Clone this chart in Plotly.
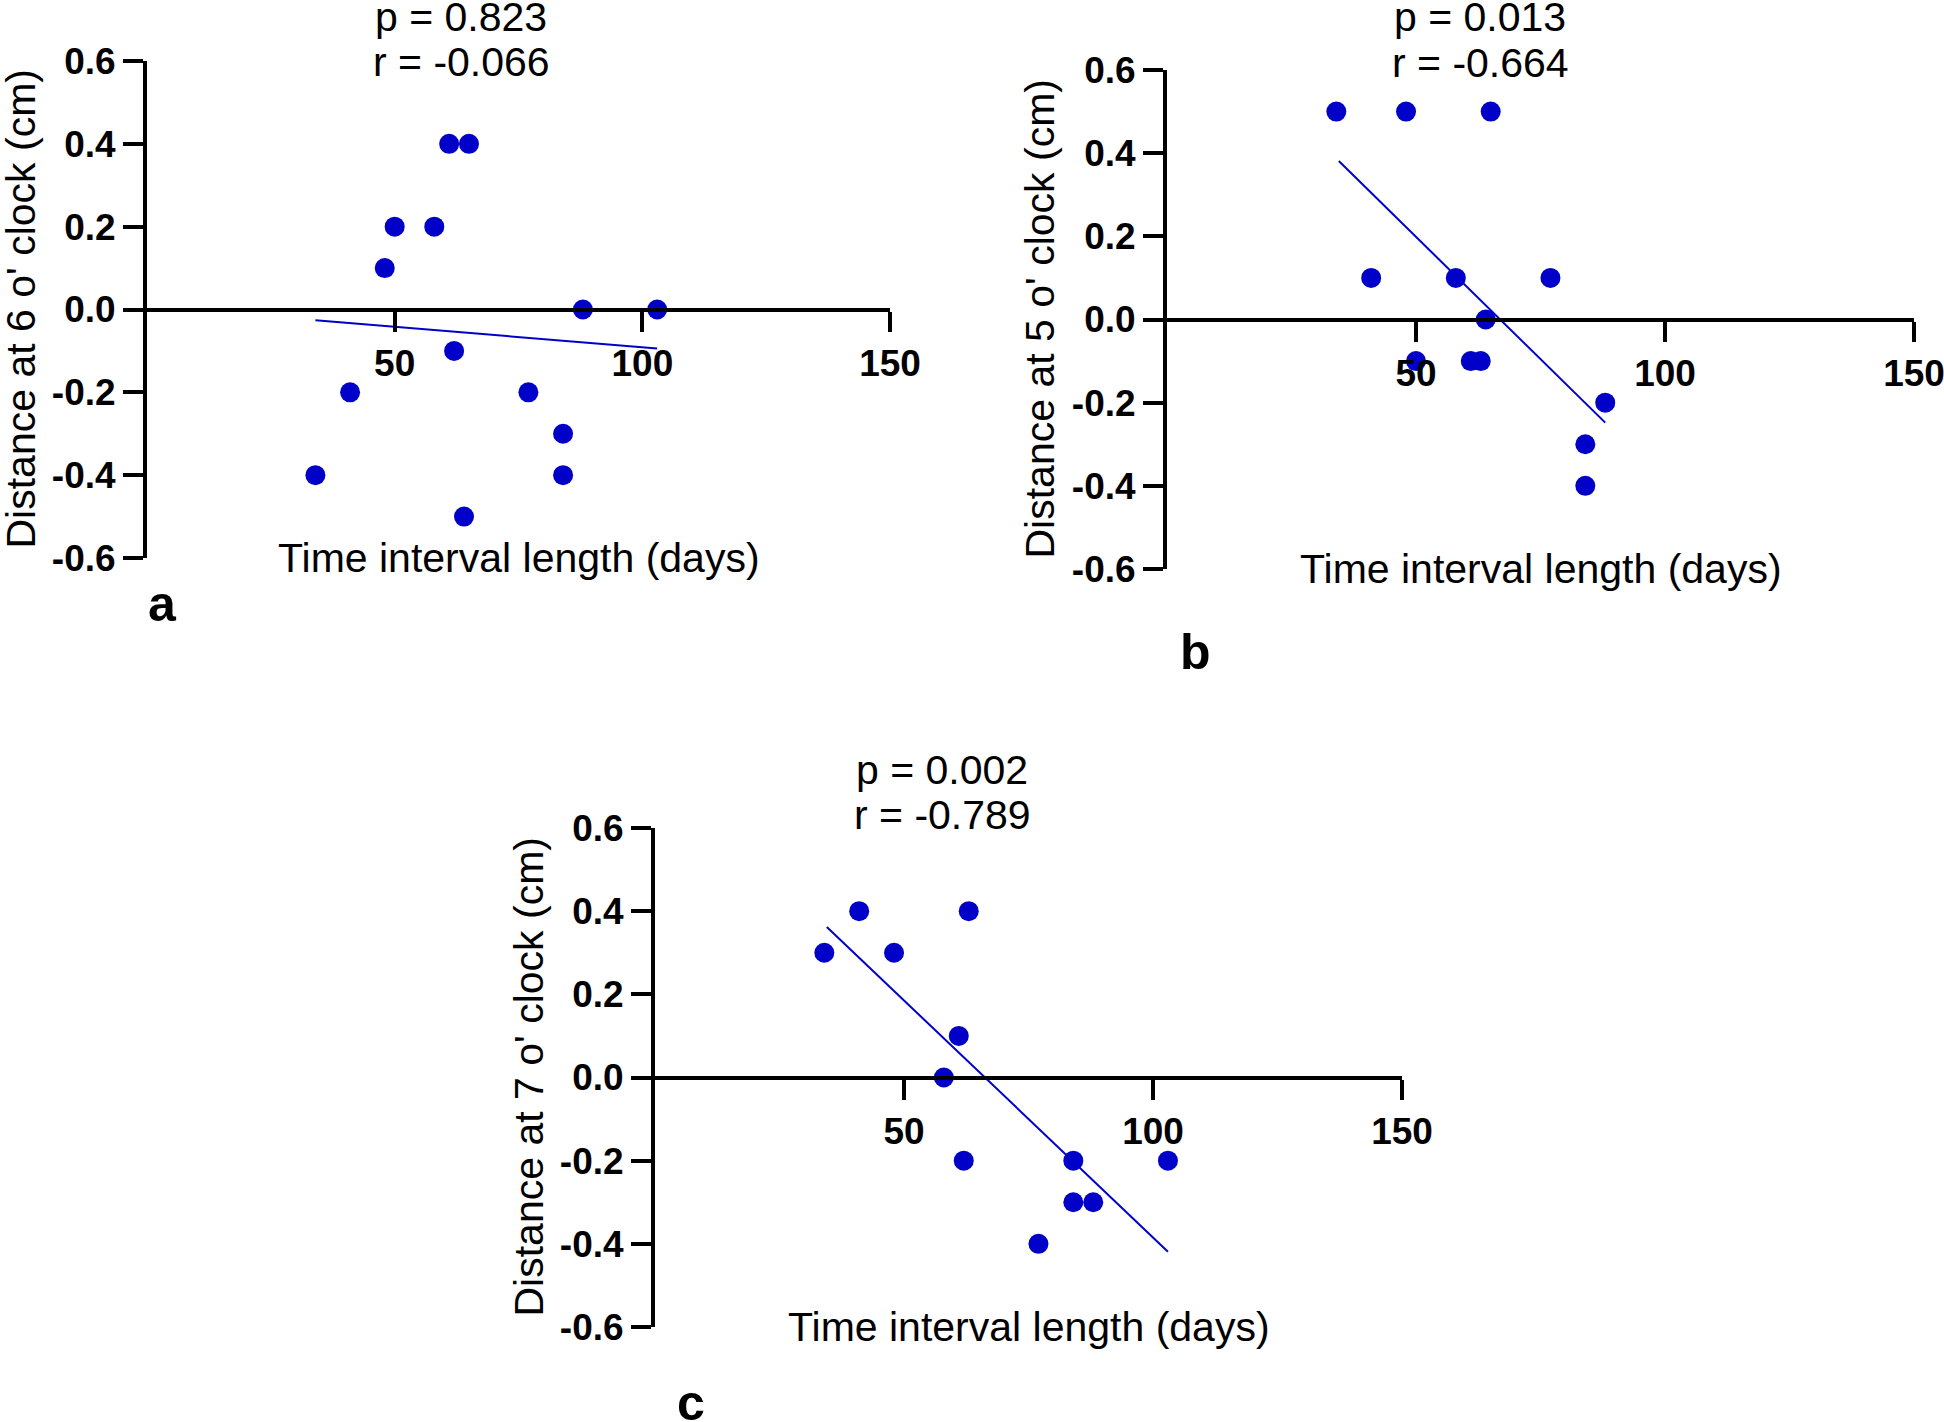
import plotly.graph_objects as go

W, H = 1944, 1422
BLUE = "#0000C8"
FONT = "Liberation Sans, Arial, Helvetica, sans-serif"

# ---------------- data ----------------
panel_names = ["a", "b", "c"]
y_titles = ["Distance at 6 o' clock (cm)", "Distance at 5 o' clock (cm)", "Distance at 7 o' clock (cm)"]
x_title = "Time interval length (days)"
p_texts = ["p = 0.823", "p = 0.013", "p = 0.002"]
r_texts = ["r = -0.066", "r = -0.664", "r = -0.789"]

a_days = [61, 65, 50, 58, 48, 88, 103, 62, 41, 77, 84, 84, 34, 64]
a_dist = [0.4, 0.4, 0.2, 0.2, 0.1, 0.0, 0.0, -0.1, -0.2, -0.2, -0.3, -0.4, -0.4, -0.5]
a_fit_x = [34, 103]
a_fit_y = [-0.026, -0.094]

b_days = [34, 48, 65, 41, 58, 77, 64, 50, 61, 63, 88, 84, 84]
b_dist = [0.5, 0.5, 0.5, 0.1, 0.1, 0.1, 0.0, -0.1, -0.1, -0.1, -0.2, -0.3, -0.4]
b_fit_x = [34.5, 88]
b_fit_y = [0.381, -0.248]

c_days = [34, 41, 48, 63, 61, 58, 62, 84, 103, 84, 88, 77]
c_dist = [0.3, 0.4, 0.3, 0.4, 0.1, 0.0, -0.2, -0.2, -0.2, -0.3, -0.3, -0.4]
c_fit_x = [34.5, 103]
c_fit_y = [0.362, -0.419]

x_tickvals = [50, 100, 150]
x_ticktext = ["50", "100", "150"]
y_tickvals = [0.6, 0.4, 0.2, 0.0, -0.2, -0.4, -0.6]
y_ticktext = ["0.6", "0.4", "0.2", "0.0", "-0.2", "-0.4", "-0.6"]

# ---------------- layout geometry (pixels) ----------------
# (axis left x, axis right x, top y, bottom y)
boxes = [(147, 890, 61, 558), (1167, 1914, 70, 569), (655, 1402, 828, 1327)]
pr_pos = [(461, 17, 62), (1480, 17, 63), (942, 770, 815)]
letter_pos = [(162, 604), (1195, 652), (691, 1403)]

def fx(px):
    return px / W

def fy(py):
    return 1 - py / H

series = [(a_days, a_dist, a_fit_x, a_fit_y),
          (b_days, b_dist, b_fit_x, b_fit_y),
          (c_days, c_dist, c_fit_x, c_fit_y)]

fig = go.Figure()
annotations = []
layout = {}
for i, (days, dist, fxv, fyv) in enumerate(series):
    n = "" if i == 0 else str(i + 1)
    xa, ya = "x" + n, "y" + n
    x0, x1, y0, y1 = boxes[i]
    ydom = [fy(y1), fy(y0)]
    fig.add_trace(go.Scatter(x=fxv, y=fyv, mode="lines", xaxis=xa, yaxis=ya,
                             line=dict(color=BLUE, width=2), showlegend=False,
                             hoverinfo="skip", cliponaxis=False))
    fig.add_trace(go.Scatter(x=days, y=dist, mode="markers", xaxis=xa, yaxis=ya,
                             marker=dict(color=BLUE, size=20, line=dict(width=0)),
                             showlegend=False, cliponaxis=False))
    layout["xaxis" + n] = dict(
        domain=[fx(x0), fx(x1)], range=[0, 150], anchor="free",
        position=(ydom[0] + ydom[1]) / 2, showgrid=False, zeroline=False,
        showline=True, linecolor="black", linewidth=4,
        ticks="outside", ticklen=20, tickwidth=4, tickcolor="black",
        tickvals=x_tickvals, ticktext=x_ticktext, automargin=False,
        ticklabeloverflow="allow",
        tickfont=dict(family=FONT, size=37, color="black", weight="bold"),
        fixedrange=True)
    layout["yaxis" + n] = dict(
        domain=ydom, range=[-0.6, 0.6], anchor=xa, showgrid=False, zeroline=False,
        showline=True, linecolor="black", linewidth=4,
        ticks="outside", ticklen=20, tickwidth=4, tickcolor="black",
        tickvals=y_tickvals, ticktext=y_ticktext, automargin=False,
        ticklabeloverflow="allow",
        tickfont=dict(family=FONT, size=37, color="black", weight="bold"),
        fixedrange=True)
    # y title
    annotations.append(dict(xref="paper", yref="paper", x=fx(x0 - 127), y=(ydom[0] + ydom[1]) / 2,
                            text=y_titles[i], textangle=-90, showarrow=False,
                            xanchor="center", yanchor="middle",
                            font=dict(family=FONT, size=41, color="black")))
    # x title
    annotations.append(dict(xref=xa, yref=ya, x=75, y=-0.6, text=x_title, showarrow=False,
                            xanchor="center", yanchor="middle",
                            font=dict(family=FONT, size=41, color="black")))
    # p and r
    px_, pp, pr = pr_pos[i]
    annotations.append(dict(xref="paper", yref="paper", x=fx(px_), y=fy(pp), text=p_texts[i],
                            showarrow=False, xanchor="center", yanchor="middle",
                            font=dict(family=FONT, size=41, color="black")))
    annotations.append(dict(xref="paper", yref="paper", x=fx(px_), y=fy(pr), text=r_texts[i],
                            showarrow=False, xanchor="center", yanchor="middle",
                            font=dict(family=FONT, size=41, color="black")))
    # panel letter
    lx, ly = letter_pos[i]
    annotations.append(dict(xref="paper", yref="paper", x=fx(lx), y=fy(ly), text="<b>%s</b>" % panel_names[i],
                            showarrow=False, xanchor="center", yanchor="middle",
                            font=dict(family=FONT, size=50, color="black")))

fig.update_layout(width=W, height=H,
                  margin=dict(l=0, r=0, t=0, b=0, pad=0, autoexpand=False),
                  paper_bgcolor="white", plot_bgcolor="white",
                  annotations=annotations, **layout)

fig.write_html("out.html", config={"displayModeBar": False},
               post_script="document.body.style.margin='0px'; document.body.style.overflow='hidden';")
